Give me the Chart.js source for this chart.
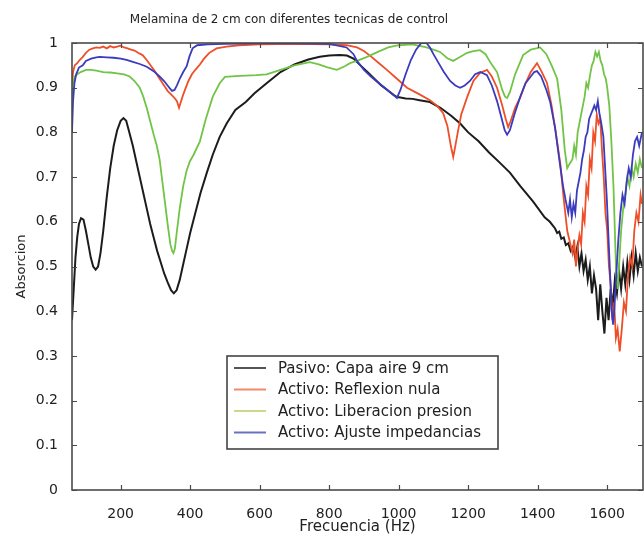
<!DOCTYPE html>
<html><head><meta charset="utf-8">
<script src="https://cdn.jsdelivr.net/npm/chart.js@4.4.0/dist/chart.umd.min.js"></script>
<style>html,body{margin:0;padding:0;background:#fff}#wrap{width:644px;height:536px;position:relative}</style>
</head><body><div id="wrap"><canvas id="c" width="644" height="536"></canvas></div>
<script>
const chartTitle = "Melamina de 2 cm con diferentes tecnicas de control";
const xAxisTitle = "Frecuencia (Hz)";
const yAxisTitle = "Absorcion";
const seriesNames = ["Pasivo: Capa aire 9 cm", "Activo: Reflexion nula", "Activo: Liberacion presion", "Activo: Ajuste impedancias"];
const xTicks = [200, 400, 600, 800, 1000, 1200, 1400, 1600];
const yTicks = [0, 0.1, 0.2, 0.3, 0.4, 0.5, 0.6, 0.7, 0.8, 0.9, 1];
const yTickLabels = ["0", "0.1", "0.2", "0.3", "0.4", "0.5", "0.6", "0.7", "0.8", "0.9", "1"];

const freqPasivo = [60,65,70,75,80,86,93,100,107,114,121,128,135,142,150,160,170,180,190,200,208,216,225,235,245,255,265,275,285,295,305,315,325,335,345,353,361,370,380,390,400,415,430,448,465,485,505,530,560,586,620,660,700,740,773,800,830,851,870,890,910,930,950,970,985,995,1005,1020,1040,1060,1090,1120,1150,1177,1200,1230,1260,1290,1320,1350,1387,1420,1435,1450,1456,1462,1468,1475,1481,1488,1495,1502,1508,1514,1520,1526,1532,1538,1544,1550,1556,1562,1568,1574,1580,1586,1592,1598,1604,1610,1616,1622,1628,1634,1640,1646,1652,1658,1664,1670,1676,1682,1688,1694,1700];
const absPasivo = [0.38,0.45,0.52,0.565,0.595,0.608,0.605,0.58,0.55,0.52,0.50,0.493,0.50,0.53,0.58,0.655,0.72,0.77,0.805,0.826,0.832,0.826,0.80,0.77,0.735,0.70,0.665,0.63,0.595,0.565,0.535,0.51,0.485,0.465,0.447,0.44,0.447,0.47,0.505,0.54,0.575,0.62,0.665,0.71,0.75,0.79,0.82,0.85,0.868,0.888,0.91,0.935,0.952,0.963,0.969,0.972,0.973,0.972,0.965,0.95,0.935,0.92,0.905,0.893,0.884,0.879,0.878,0.876,0.875,0.872,0.868,0.855,0.838,0.82,0.80,0.78,0.755,0.733,0.71,0.68,0.645,0.61,0.60,0.585,0.575,0.578,0.562,0.565,0.548,0.552,0.535,0.545,0.52,0.545,0.50,0.53,0.49,0.515,0.47,0.50,0.44,0.48,0.45,0.38,0.46,0.40,0.35,0.43,0.38,0.45,0.41,0.47,0.44,0.49,0.45,0.50,0.46,0.51,0.47,0.52,0.48,0.53,0.49,0.52,0.50];

const freqReflexion = [60,63,68,75,82,90,100,110,120,130,140,150,160,170,180,190,200,210,220,230,240,250,263,275,288,300,312,325,335,345,355,362,368,372,378,385,395,405,415,428,440,455,476,505,540,600,700,800,850,880,900,920,940,966,995,1024,1060,1090,1110,1128,1140,1150,1157,1163,1170,1180,1197,1215,1234,1254,1268,1283,1298,1308,1315,1322,1335,1350,1365,1380,1398,1412,1427,1440,1452,1465,1475,1485,1494,1500,1505,1510,1515,1520,1525,1530,1535,1540,1545,1550,1555,1560,1565,1570,1575,1580,1585,1590,1595,1600,1605,1610,1615,1620,1625,1630,1636,1642,1648,1654,1660,1666,1672,1678,1684,1690,1696,1700];
const absReflexion = [0.90,0.935,0.95,0.955,0.962,0.968,0.978,0.985,0.988,0.99,0.989,0.992,0.988,0.993,0.99,0.992,0.994,0.99,0.988,0.985,0.983,0.978,0.973,0.962,0.948,0.935,0.92,0.905,0.893,0.885,0.877,0.87,0.855,0.865,0.88,0.895,0.915,0.93,0.94,0.952,0.965,0.978,0.988,0.992,0.995,0.997,0.998,0.997,0.995,0.99,0.982,0.97,0.957,0.94,0.92,0.90,0.885,0.872,0.86,0.843,0.815,0.77,0.745,0.77,0.80,0.84,0.879,0.915,0.933,0.94,0.925,0.90,0.86,0.83,0.812,0.825,0.855,0.879,0.91,0.935,0.955,0.935,0.91,0.86,0.80,0.73,0.65,0.58,0.55,0.53,0.56,0.50,0.54,0.57,0.55,0.62,0.60,0.68,0.66,0.74,0.72,0.80,0.78,0.84,0.82,0.83,0.76,0.70,0.62,0.58,0.50,0.46,0.38,0.42,0.34,0.36,0.31,0.36,0.42,0.40,0.48,0.52,0.50,0.58,0.62,0.60,0.66,0.64];

const freqLiberacion = [60,63,68,75,85,100,115,130,150,170,190,210,226,240,255,265,275,285,295,304,312,320,328,336,343,348,352,356,362,370,380,390,399,410,428,445,465,485,500,530,560,590,620,660,700,744,770,793,822,845,860,880,909,940,970,1000,1040,1080,1100,1119,1140,1157,1175,1197,1215,1234,1250,1265,1283,1298,1306,1312,1320,1335,1358,1380,1407,1425,1440,1456,1468,1478,1485,1492,1500,1505,1510,1515,1520,1525,1530,1535,1540,1545,1551,1556,1561,1566,1571,1576,1581,1586,1591,1596,1600,1606,1612,1618,1622,1626,1630,1634,1640,1646,1652,1658,1664,1670,1676,1682,1688,1694,1700];
const absLiberacion = [0.88,0.91,0.925,0.93,0.935,0.94,0.94,0.938,0.935,0.934,0.932,0.93,0.925,0.915,0.90,0.88,0.855,0.825,0.795,0.77,0.74,0.69,0.64,0.59,0.55,0.535,0.53,0.54,0.58,0.63,0.68,0.715,0.735,0.75,0.78,0.83,0.88,0.91,0.924,0.926,0.927,0.928,0.93,0.94,0.95,0.957,0.952,0.946,0.94,0.948,0.955,0.96,0.969,0.98,0.99,0.995,0.997,0.99,0.985,0.98,0.966,0.96,0.968,0.978,0.982,0.984,0.975,0.955,0.935,0.895,0.88,0.877,0.89,0.93,0.973,0.985,0.99,0.975,0.95,0.92,0.85,0.76,0.72,0.73,0.74,0.77,0.75,0.80,0.82,0.84,0.86,0.88,0.91,0.90,0.93,0.95,0.96,0.98,0.97,0.98,0.96,0.95,0.93,0.92,0.90,0.86,0.78,0.68,0.58,0.48,0.45,0.50,0.58,0.63,0.66,0.70,0.68,0.72,0.70,0.73,0.71,0.74,0.72];

const freqAjuste = [60,63,67,72,80,91,100,115,130,140,160,180,200,217,235,255,275,295,312,325,335,341,348,355,362,370,380,390,398,407,420,450,500,600,700,800,850,870,880,900,920,940,960,975,985,995,1005,1020,1035,1050,1065,1080,1090,1100,1115,1130,1148,1163,1177,1190,1205,1220,1235,1254,1268,1283,1295,1305,1312,1320,1335,1350,1365,1380,1390,1398,1410,1425,1436,1450,1462,1473,1480,1488,1493,1498,1503,1508,1513,1518,1523,1528,1533,1538,1543,1548,1553,1558,1563,1568,1573,1578,1583,1589,1594,1599,1604,1609,1613,1617,1621,1626,1632,1638,1644,1650,1656,1662,1668,1674,1680,1686,1692,1700];
const absAjuste = [0.80,0.87,0.91,0.93,0.945,0.95,0.96,0.965,0.968,0.969,0.968,0.967,0.965,0.962,0.958,0.953,0.947,0.937,0.925,0.915,0.905,0.899,0.893,0.895,0.905,0.92,0.935,0.948,0.97,0.988,0.995,0.997,0.998,0.999,0.999,0.998,0.99,0.975,0.96,0.94,0.925,0.912,0.90,0.89,0.884,0.877,0.895,0.93,0.962,0.985,1.0,1.0,0.99,0.975,0.955,0.935,0.915,0.905,0.90,0.905,0.915,0.93,0.935,0.928,0.905,0.87,0.835,0.805,0.795,0.805,0.845,0.88,0.91,0.925,0.935,0.937,0.925,0.895,0.868,0.81,0.74,0.68,0.65,0.62,0.65,0.61,0.64,0.62,0.67,0.69,0.71,0.74,0.76,0.79,0.80,0.83,0.84,0.85,0.86,0.85,0.87,0.84,0.82,0.79,0.72,0.65,0.56,0.47,0.40,0.37,0.41,0.48,0.56,0.62,0.66,0.64,0.69,0.72,0.70,0.75,0.78,0.79,0.77,0.80];

const seriesColors = ["#1c1c1c", "#ef4f28", "#72c446", "#3b3bbd"];
const legendSampleColors = ["#555555", "#f08a6a", "#c9d98c", "#6a70c0"];

const FONT = "'DejaVu Sans', sans-serif";

function pts(fx, fy) { return fx.map((f, i) => ({ x: f, y: fy[i] })); }

const framePlugin = {
  id: 'frame',
  afterDatasetsDraw(chart) {
    const { ctx, chartArea: a, scales } = chart;
    ctx.save();
    ctx.strokeStyle = '#4a4a4a';
    ctx.lineWidth = 1.6;
    ctx.strokeRect(a.left, a.top, a.right - a.left, a.bottom - a.top);
    ctx.lineWidth = 1.2;
    ctx.beginPath();
    xTicks.forEach(v => {
      const px = Math.round(scales.x.getPixelForValue(v)) + 0.5;
      ctx.moveTo(px, a.bottom); ctx.lineTo(px, a.bottom - 5);
      ctx.moveTo(px, a.top); ctx.lineTo(px, a.top + 5);
    });
    yTicks.forEach(v => {
      const py = Math.round(scales.y.getPixelForValue(v)) + 0.5;
      ctx.moveTo(a.left, py); ctx.lineTo(a.left + 5, py);
      ctx.moveTo(a.right, py); ctx.lineTo(a.right - 5, py);
    });
    ctx.stroke();
    ctx.restore();
  },
  afterDraw(chart) {
    const { ctx } = chart;
    ctx.save();
    ctx.fillStyle = '#222';
    ctx.font = "12px " + FONT;
    ctx.textAlign = 'center';
    ctx.textBaseline = 'middle';
    ctx.fillText(chartTitle, 289, 20);
    const bx = 227, by = 356, bw = 271, bh = 93;
    ctx.fillStyle = '#fff';
    ctx.fillRect(bx, by, bw, bh);
    ctx.strokeStyle = '#444';
    ctx.lineWidth = 1.6;
    ctx.strokeRect(bx, by, bw, bh);
    ctx.font = "15px " + FONT;
    ctx.textAlign = 'left';
    chart.data.datasets.forEach((ds, i) => {
      const yy = by + 12 + i * 21.5;
      ctx.strokeStyle = legendSampleColors[i];
      ctx.lineWidth = 2;
      ctx.beginPath(); ctx.moveTo(234, yy); ctx.lineTo(266, yy); ctx.stroke();
      ctx.fillStyle = '#222';
      ctx.fillText(ds.label, 278, yy + 1);
    });
    ctx.restore();
  }
};

const datasets = [
  { label: seriesNames[0], data: pts(freqPasivo, absPasivo), borderColor: seriesColors[0], borderWidth: 2, order: 4 },
  { label: seriesNames[1], data: pts(freqReflexion, absReflexion), borderColor: seriesColors[1], borderWidth: 1.8, order: 3 },
  { label: seriesNames[2], data: pts(freqLiberacion, absLiberacion), borderColor: seriesColors[2], borderWidth: 1.8, order: 2 },
  { label: seriesNames[3], data: pts(freqAjuste, absAjuste), borderColor: seriesColors[3], borderWidth: 1.8, order: 1 }
].map(d => Object.assign(d, { pointRadius: 0, tension: 0, fill: false }));

new Chart(document.getElementById('c'), {
  type: 'line',
  data: { datasets },
  options: {
    responsive: false,
    animation: false,
    devicePixelRatio: 1,
    layout: { padding: { top: 43, right: 1, left: 0, bottom: 0 } },
    plugins: { legend: { display: false }, title: { display: false }, tooltip: { enabled: false } },
    scales: {
      x: {
        type: 'linear', min: 60, max: 1703,
        afterBuildTicks: s => { s.ticks = xTicks.map(v => ({ value: v })); },
        afterFit: s => { s.height = 46; },
        grid: { display: false }, border: { display: false },
        ticks: { font: { family: FONT, size: 14 }, color: '#222', padding: 8, maxRotation: 0,
                 callback: (v) => String(v) },
        title: { display: true, text: xAxisTitle, font: { family: FONT, size: 15 }, color: '#222', padding: { top: 1, bottom: 0 } }
      },
      y: {
        type: 'linear', min: 0, max: 1,
        afterBuildTicks: s => { s.ticks = yTicks.map(v => ({ value: v })); },
        afterFit: s => { s.width = 72; },
        grid: { display: false }, border: { display: false },
        ticks: { font: { family: FONT, size: 14 }, color: '#222', padding: 6,
                 callback: (v, i) => yTickLabels[i] },
        title: { display: true, text: yAxisTitle, font: { family: FONT, size: 13 }, color: '#222', padding: { top: 14, bottom: 0 } }
      }
    }
  },
  plugins: [framePlugin]
});
</script>
</body></html>
